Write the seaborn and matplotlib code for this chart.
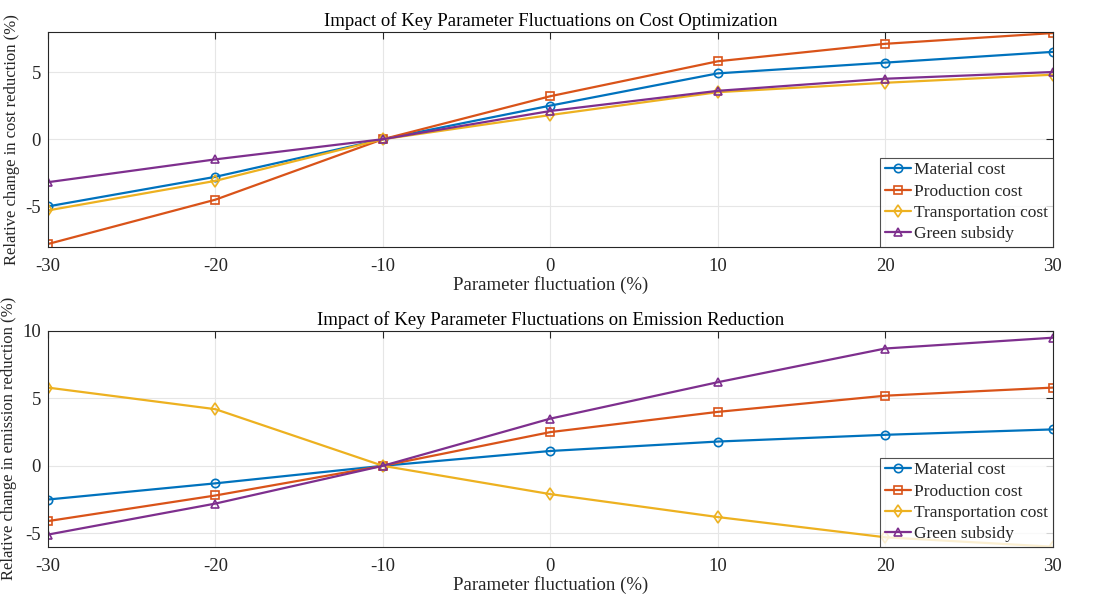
import pandas as pd
import matplotlib
matplotlib.use('Agg')
import matplotlib.pyplot as plt
import seaborn as sns

# data
fluctuation = [-30, -20, -10, 0, 10, 20, 30]
series_names = ['Material cost', 'Production cost', 'Transportation cost', 'Green subsidy']

cost_material = [-5.0, -2.8, 0.0, 2.5, 4.9, 5.7, 6.5]
cost_production = [-7.8, -4.5, 0.0, 3.2, 5.8, 7.1, 7.9]
cost_transport = [-5.3, -3.1, 0.0, 1.8, 3.5, 4.2, 4.8]
cost_subsidy = [-3.2, -1.5, 0.0, 2.1, 3.6, 4.5, 5.0]

emis_material = [-2.5, -1.3, 0.0, 1.1, 1.8, 2.3, 2.7]
emis_production = [-4.1, -2.2, 0.0, 2.5, 4.0, 5.2, 5.8]
emis_transport = [5.8, 4.2, 0.0, -2.1, -3.8, -5.3, -6.0]
emis_subsidy = [-5.1, -2.8, 0.0, 3.5, 6.2, 8.7, 9.5]

colors = ['#0072BD', '#D95319', '#EDB120', '#7E2F8E']
markers = ['o', 's', 'd', '^']

sns.set_style('white')
plt.rcParams['font.family'] = ['Liberation Serif', 'DejaVu Serif']

fig = plt.figure(figsize=(10.93, 5.94), dpi=100)
ax1 = fig.add_axes([0.0439, 0.5847, 0.9192, 0.3619])
ax2 = fig.add_axes([0.0439, 0.0796, 0.9192, 0.3632])


def draw(ax, values, title, ylabel, ylim, yticks):
    for name, vals, c, m in zip(series_names, values, colors, markers):
        df = pd.DataFrame({'x': fluctuation, 'y': vals})
        sns.lineplot(data=df, x='x', y='y', ax=ax, color=c, marker=m,
                     markersize=6, markerfacecolor='none', markeredgecolor=c,
                     markeredgewidth=1.2, linewidth=1.6, label=name)
    ax.set_xlim(-30, 30)
    ax.set_ylim(*ylim)
    ax.set_xticks(fluctuation)
    ax.set_xticklabels([str(v) for v in fluctuation])
    ax.set_yticks(yticks)
    ax.set_yticklabels([str(v) for v in yticks])
    ax.grid(True, color='#e6e6e6', linewidth=0.8)
    ax.tick_params(axis='both', direction='in', length=5, width=0.8, colors='#262626',
                   labelsize=13.5, top=True, right=True)
    ax.tick_params(axis='x', pad=8)
    ax.tick_params(axis='y', pad=5)
    for s in ax.spines.values():
        s.set_color('#262626')
        s.set_linewidth(0.8)
    ax.set_title(title, fontsize=13.5, pad=4, color='black')
    ax.set_xlabel('Parameter fluctuation (%)', fontsize=13.5, labelpad=1)
    ax.set_ylabel(ylabel, fontsize=12, labelpad=4)
    leg = ax.legend(loc='lower right', fontsize=12.5, frameon=True, fancybox=False,
                    borderpad=0.25, labelspacing=0.3, handlelength=1.5,
                    handletextpad=0.2, borderaxespad=0.0)
    leg.get_frame().set_edgecolor('#262626')
    leg.get_frame().set_linewidth(0.8)


draw(ax1, [cost_material, cost_production, cost_transport, cost_subsidy],
     'Impact of Key Parameter Fluctuations on Cost Optimization',
     'Relative change in cost reduction (%)', (-8, 8), [-5, 0, 5])
draw(ax2, [emis_material, emis_production, emis_transport, emis_subsidy],
     'Impact of Key Parameter Fluctuations on Emission Reduction',
     'Relative change in emission reduction (%)', (-6, 10), [-5, 0, 5, 10])

fig.savefig('out.png', dpi=100)
